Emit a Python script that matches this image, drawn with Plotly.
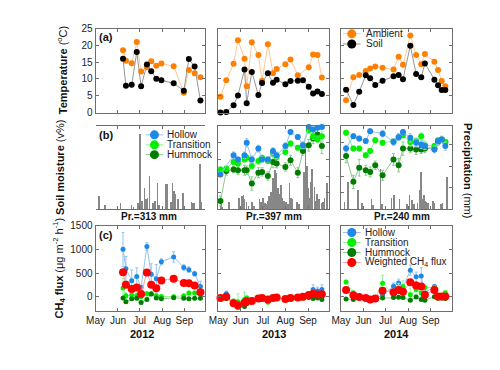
import plotly.graph_objects as go

# The page body has an 8 px default margin: the figure is drawn 8 px in and 8 px down.
OFF = 8
W, H = 500 - OFF, 370 - OFF
FONT = "Liberation Sans, Arial, sans-serif"

# ---------------- data ----------------
months = ["May", "Jun", "Jul", "Aug", "Sep"]
years = [2012, 2013, 2014]
precip_totals = ["Pr.=313 mm", "Pr.=397 mm", "Pr.=240 mm"]

# 2012
dates_2012 = ["2012-06-08", "2012-06-12", "2012-06-20", "2012-06-27", "2012-07-03", "2012-07-11",
              "2012-07-17", "2012-07-24", "2012-07-31", "2012-08-17", "2012-08-31", "2012-09-07",
              "2012-09-15", "2012-09-23"]
ambient_2012 = [18.5, 15.4, 14.7, 21.0, 12.2, 13.5, 15.3, 13.9, 14.6, 13.8, 5.9, 12.7, 11.7, 10.5]
soil_2012 = [16.0, 8.0, 8.3, 18.0, 7.8, 14.3, 12.3, 10.1, 9.6, 8.7, 6.5, 15.9, 13.7, 3.6]
ch4_hollow_2012 = [1000, 590, 335, 425, 195, 1060, 475, 380, 740, 840, 615, 570, 485, 215]
ch4_hollow_err_2012 = [360, 260, 230, 185, 50, 80, 220, 300, 60, 110, 60, 60, 50, 110]
ch4_trans_2012 = [185, 20, 35, 20, 5, 60, 60, 20, 5, 0, 20, 75, 75, 90]
ch4_trans_err_2012 = [200, 60, 40, 60, 40, 50, 40, 40, 30, 30, 30, 40, 40, 40]
ch4_humm_2012 = [-30, -110, -45, -35, -125, -60, 55, -30, -45, -25, -35, -45, -35, -35]
ch4_humm_err_2012 = [30, 30, 25, 25, 30, 25, 25, 20, 20, 20, 20, 20, 20, 20]
ch4_weighted_2012 = [515, 250, 160, 195, 55, 510, 250, 180, 340, 380, 290, 285, 235, 95]
ch4_weighted_err_2012 = [60, 40, 40, 40, 30, 50, 40, 40, 40, 40, 30, 30, 30, 30]
rain_dates_2012 = ["2012-05-05", "2012-05-13", "2012-06-04", "2012-06-19", "2012-06-22", "2012-06-28",
                   "2012-07-01", "2012-07-04", "2012-07-07", "2012-07-09", "2012-07-11", "2012-07-14",
                   "2012-07-19", "2012-07-22", "2012-07-25", "2012-07-27", "2012-08-05", "2012-08-07",
                   "2012-08-13", "2012-08-15", "2012-08-17", "2012-08-19", "2012-08-22", "2012-08-23",
                   "2012-08-29", "2012-09-10", "2012-09-12", "2012-09-14", "2012-09-22", "2012-09-24"]
rain_2012 = [9.3, 2.9, 4.6, 2.9, 1.7, 4.1, 52.2, 5.8, 15.1, 7.0, 8.1, 23.2, 4.6, 5.8, 18.0, 2.9,
             17.4, 17.4, 5.2, 18.0, 12.8, 10.4, 7.0, 5.2, 11.6, 5.2, 4.6, 4.1, 31.3, 5.2]

# 2013
dates_2013 = ["2013-05-04", "2013-05-12", "2013-05-22", "2013-05-28", "2013-06-06", "2013-06-09",
              "2013-06-16", "2013-06-25", "2013-06-30", "2013-07-08", "2013-07-15", "2013-07-20",
              "2013-08-01", "2013-08-08", "2013-08-18", "2013-08-25", "2013-09-02", "2013-09-08",
              "2013-09-14", "2013-09-20"]
ambient_2013 = [4.7, 9.6, 14.5, 21.5, 16.0, 7.8, 20.9, 17.1, 9.5, 20.3, 11.7, 13.0, 14.4, 15.8,
                11.1, None, 13.5, 17.3, 17.1, 10.4]
soil_2013 = [0.0, 0.2, 2.2, 5.1, 12.8, 2.8, 12.1, 5.2, 8.8, 11.7, 8.9, 9.8, 8.4, 9.4, 9.5, 9.6,
             7.7, 5.7, 6.3, 5.5]
sm_hollow_2013 = [42, None, 65, 60, 65, 80, 60, 73, 60, 60, 70, 65, 76, 93, 87, 77, 99, 96, 98, 99]
sm_hollow_err_2013 = [3, None, 4, 3, 4, 5, 4, 4, 3, 3, 4, 4, 4, 3, 3, 4, 3, 3, 2, 2]
sm_trans_2013 = [48, 49, 57, 55, 60, 62, 52, 58, 62, 58, 67, 63, 69, 79, 74, 77, 95, 88, 84, 88]
sm_trans_err_2013 = [3, 3, 3, 3, 3, 4, 3, 4, 3, 3, 3, 3, 3, 3, 3, 4, 4, 4, 4, 6]
sm_humm_2013 = [10, 46, 48, 47, 47, 47, 31, 44, 45, 40, 57, 55, 51, 59, 44, 70, 77, 85, 90, 76]
sm_humm_err_2013 = [6, 5, 4, 5, 6, 5, 8, 6, 5, 5, 7, 5, 5, 6, 6, 5, 7, 6, 8, 9]
ch4_hollow_2013 = [-30, 60, -160, -230, -150, -90, -100, -40, -20, -50, -30, -10, -50, -30, -10,
                   10, 50, 150, 120, 150]
ch4_hollow_err_2013 = [40, 60, 50, 40, 40, 40, 40, 30, 30, 30, 30, 30, 30, 30, 30, 30, 30, 100, 80, 100]
ch4_trans_2013 = [-40, -20, -90, -110, -60, -30, -60, -50, -40, -120, -20, -20, -40, -20, 0, 20,
                  40, 40, 20, 10]
ch4_trans_err_2013 = [30, 30, 40, 170, 160, 50, 40, 30, 30, 30, 30, 30, 30, 30, 30, 30, 30, 30, 30, 30]
ch4_humm_2013 = [-40, -40, -130, -190, -210, -150, -110, -60, -50, -80, -50, -40, -60, -50, -40,
                 -30, -20, -40, -30, -60]
ch4_humm_err_2013 = [30, 30, 30, 30, 30, 30, 30, 20, 20, 20, 20, 20, 20, 20, 20, 20, 20, 20, 20, 20]
ch4_weighted_2013 = [-30, 0, -140, -190, -130, -100, -90, -40, -30, -60, -30, -20, -50, -30, -20,
                     0, 35, 60, 45, 50]
ch4_weighted_err_2013 = [30, 30, 30, 30, 30, 30, 30, 20, 20, 20, 20, 20, 20, 20, 20, 20, 20, 40, 40, 40]
rain_dates_2013 = ["2013-05-05", "2013-05-07", "2013-05-16", "2013-05-30", "2013-06-03", "2013-06-05",
                   "2013-06-06", "2013-06-09", "2013-06-12", "2013-06-17", "2013-06-19", "2013-06-27",
                   "2013-06-29", "2013-07-02", "2013-07-04", "2013-07-06", "2013-07-08", "2013-07-10",
                   "2013-07-13", "2013-07-15", "2013-07-18", "2013-07-20", "2013-07-22", "2013-07-24",
                   "2013-07-26", "2013-07-28", "2013-07-30", "2013-08-02", "2013-08-05", "2013-08-07",
                   "2013-08-09", "2013-08-11", "2013-08-17", "2013-08-20", "2013-08-27", "2013-08-29",
                   "2013-08-31", "2013-09-01", "2013-09-03", "2013-09-05", "2013-09-07", "2013-09-10",
                   "2013-09-12", "2013-09-14", "2013-09-16", "2013-09-20", "2013-09-22", "2013-09-24",
                   "2013-09-27"]
rain_2013 = [3.5, 1.7, 5.2, 8.1, 9.0, 9.9, 7.0, 5.2, 2.3, 5.2, 2.3, 7.0, 5.2, 8.1, 4.6, 3.5, 5.8,
             9.0, 12.2, 21.5, 27.0, 24.9, 14.5, 10.4, 16.8, 8.1, 5.8, 5.2, 3.5, 18.0, 8.1, 7.0, 5.2,
             3.5, 26.1, 43.5, 30.2, 14.5, 8.1, 19.1, 27.8, 15.7, 5.8, 10.4, 7.0, 4.6, 5.2, 8.1, 18.0]

# 2014
dates_2014 = ["2014-05-08", "2014-05-18", "2014-05-26", "2014-06-04", "2014-06-10", "2014-06-17",
              "2014-06-27", "2014-07-12", "2014-07-19", "2014-07-25", "2014-08-04", "2014-08-12",
              "2014-08-19", "2014-08-24", "2014-09-06", "2014-09-11", "2014-09-16", "2014-09-21"]
ambient_2014 = [3.7, 10.5, 11.2, 12.4, 13.1, 13.7, 13.3, 12.8, 16.6, 14.2, 22.9, 17.1, 14.4, 17.4,
                15.1, 12.7, 9.4, 7.8]
soil_2014 = [6.8, 2.3, 6.2, 11.1, 10.2, 8.2, 9.5, 10.8, 11.2, 9.9, 19.9, 11.5, 10.5, 14.6, 9.8,
             8.1, 6.7, 6.7]
sm_hollow_2014 = [73, 88, 85, 82, 94, None, 91, 81, 87, 93, 86, 80, 78, 76, 72, 82, 84, 76]
sm_hollow_err_2014 = [4, 3, 3, 3, 3, None, 4, 4, 4, 3, 5, 5, 5, 4, 4, 4, 4, 5]
sm_trans_2014 = [92, 73, 73, 65, 70, 83, 80, 82, 86, 89, 81, 82, 88, 77, 76, 83, 84, 81]
sm_trans_err_2014 = [3, 3, 3, 3, 3, 3, 3, 3, 3, 3, 5, 4, 4, 5, 3, 3, 3, 3]
sm_humm_2014 = [64, 33, 50, 47, 45, 53, 41, 60, 53, 73, 73, 72, 72, 73, 73, 81, 84, 81]
sm_humm_err_2014 = [8, 8, 10, 6, 6, 5, 6, 7, 8, 8, 5, 6, 5, 5, 4, 4, 3, 3]
ch4_hollow_2014 = [140, 60, -5, -30, -60, -40, 35, 220, 290, 185, 560, 420, 435, 80, 215, 5, 5, 10]
ch4_hollow_err_2014 = [40, 40, 30, 30, 30, 30, 40, 70, 80, 60, 110, 100, 180, 60, 40, 30, 30, 30]
ch4_trans_2014 = [310, 75, -5, -35, -60, -30, 285, 40, 180, 215, 40, 150, 75, 195, 195, 5, 20, 80]
ch4_trans_err_2014 = [40, 60, 30, 30, 30, 30, 170, 50, 100, 120, 140, 110, 80, 60, 40, 30, 30, 40]
ch4_humm_2014 = [-50, -60, -15, -30, -85, -50, -30, -20, -15, -20, -75, -5, -60, -75, 0, -35, -30, -40]
ch4_humm_err_2014 = [20, 20, 20, 20, 20, 20, 20, 20, 20, 20, 20, 20, 20, 20, 20, 20, 20, 20]
ch4_weighted_2014 = [140, 30, -5, -30, -60, -40, 125, 95, 140, 105, 305, 235, 215, 40, 140, 5, 5, 5]
ch4_weighted_err_2014 = [30, 30, 20, 20, 20, 20, 40, 30, 40, 40, 50, 40, 40, 30, 30, 20, 20, 20]
rain_dates_2014 = ["2014-05-06", "2014-05-11", "2014-05-24", "2014-05-30", "2014-06-12", "2014-06-14",
                   "2014-06-24", "2014-06-26", "2014-07-09", "2014-07-12", "2014-07-13", "2014-07-20",
                   "2014-07-30", "2014-07-31", "2014-08-03", "2014-08-06", "2014-08-09", "2014-08-14",
                   "2014-08-17", "2014-08-19", "2014-08-20", "2014-08-22", "2014-08-23", "2014-08-25",
                   "2014-08-26", "2014-08-28", "2014-09-04", "2014-09-06", "2014-09-15", "2014-09-17",
                   "2014-09-23"]
rain_2014 = [5.2, 19.1, 13.3, 4.6, 7.0, 2.9, 27.8, 3.5, 8.1, 5.8, 9.9, 7.0, 3.5, 2.3, 9.9, 6.4, 3.5,
             4.6, 13.3, 26.1, 7.0, 8.1, 9.9, 5.8, 5.2, 4.6, 5.8, 4.1, 3.5, 4.1, 22.6]

# ---------------- styling ----------------
C_AMB, L_AMB = "rgb(255,128,0)", "rgb(255,200,150)"
C_SOIL, L_SOIL = "rgb(0,0,0)", "rgb(150,150,150)"
C_HOL, L_HOL = "rgb(30,136,229)", "rgb(150,195,240)"
C_TRA, L_TRA = "rgb(0,240,0)", "rgb(150,240,150)"
C_HUM, L_HUM = "rgb(0,125,0)", "rgb(140,200,140)"
C_WEI, L_WEI = "rgb(255,0,0)", "rgb(255,160,160)"
AXC = "rgb(110,110,110)"
RAIN_C = "rgb(135,135,135)"


def PX(px):
    return (px - OFF) / W


def PY(py):
    return 1 - (py - OFF) / H


COL_PX = [(88, 200), (213, 326), (338, 451)]
ROW_PX = [(23, 110), (124, 210), (227, 315)]
X_DOM = [[PX(a), PX(b)] for (a, b) in COL_PX]
Y_DOM = [[PY(b), PY(t)] for (t, b) in ROW_PX]


def ax(prefix, k):
    return prefix if k == 1 else f"{prefix}{k}"


def lay(prefix, k):
    return f"{prefix}axis" if k == 1 else f"{prefix}axis{k}"


fig = go.Figure()

col_data = [
    dict(d=dates_2012, amb=ambient_2012, soil=soil_2012, sm=None,
         ch4=(ch4_hollow_2012, ch4_hollow_err_2012, ch4_trans_2012, ch4_trans_err_2012,
              ch4_humm_2012, ch4_humm_err_2012, ch4_weighted_2012, ch4_weighted_err_2012),
         rd=rain_dates_2012, r=rain_2012),
    dict(d=dates_2013, amb=ambient_2013, soil=soil_2013,
         sm=(sm_hollow_2013, sm_hollow_err_2013, sm_trans_2013, sm_trans_err_2013,
             sm_humm_2013, sm_humm_err_2013),
         ch4=(ch4_hollow_2013, ch4_hollow_err_2013, ch4_trans_2013, ch4_trans_err_2013,
              ch4_humm_2013, ch4_humm_err_2013, ch4_weighted_2013, ch4_weighted_err_2013),
         rd=rain_dates_2013, r=rain_2013),
    dict(d=dates_2014, amb=ambient_2014, soil=soil_2014,
         sm=(sm_hollow_2014, sm_hollow_err_2014, sm_trans_2014, sm_trans_err_2014,
             sm_humm_2014, sm_humm_err_2014),
         ch4=(ch4_hollow_2014, ch4_hollow_err_2014, ch4_trans_2014, ch4_trans_err_2014,
              ch4_humm_2014, ch4_humm_err_2014, ch4_weighted_2014, ch4_weighted_err_2014),
         rd=rain_dates_2014, r=rain_2014),
]


def line_trace(x, y, mc, lc, xa, ya, size=6, err=None):
    t = go.Scatter(x=x, y=y, mode="lines+markers", xaxis=xa, yaxis=ya, showlegend=False,
                   connectgaps=True, cliponaxis=False,
                   line=dict(color=lc, width=1),
                   marker=dict(color=mc, size=size, line=dict(width=0)))
    if err is not None:
        t.error_y = dict(type="data", array=err, color=lc, thickness=1, width=1.5)
    return t


layout_axes = {}
for c in range(3):
    D = col_data[c]
    yr = years[c]
    ka = 1 + c
    fig.add_trace(line_trace(D["d"], D["amb"], C_AMB, L_AMB, ax("x", ka), ax("y", ka)))
    fig.add_trace(line_trace(D["d"], D["soil"], C_SOIL, L_SOIL, ax("x", ka), ax("y", ka)))
    kb = 4 + c
    km = 10 + c
    fig.add_trace(go.Bar(x=D["rd"], y=D["r"], xaxis=ax("x", kb), yaxis=ax("y", kb),
                         marker=dict(color=RAIN_C, line=dict(width=0)),
                         width=86400000 * 0.9, showlegend=False))
    if D["sm"] is not None:
        h, he, t_, te, m, me = D["sm"]
        fig.add_trace(line_trace(D["d"], m, C_HUM, L_HUM, ax("x", kb), ax("y", km), err=me))
        fig.add_trace(line_trace(D["d"], t_, C_TRA, L_TRA, ax("x", kb), ax("y", km), err=te))
        fig.add_trace(line_trace(D["d"], h, C_HOL, L_HOL, ax("x", kb), ax("y", km), err=he))
    kc = 7 + c
    h, he, t_, te, m, me, w, we = D["ch4"]
    fig.add_trace(line_trace(D["d"], h, C_HOL, L_HOL, ax("x", kc), ax("y", kc), size=5, err=he))
    fig.add_trace(line_trace(D["d"], t_, C_TRA, L_TRA, ax("x", kc), ax("y", kc), size=5, err=te))
    fig.add_trace(line_trace(D["d"], m, C_HUM, L_HUM, ax("x", kc), ax("y", kc), size=5, err=me))
    fig.add_trace(line_trace(D["d"], w, C_WEI, L_WEI, ax("x", kc), ax("y", kc), size=8, err=we))

    for r in range(3):
        k = 1 + r * 3 + c
        layout_axes[lay("x", k)] = dict(
            domain=X_DOM[c], anchor=ax("y", k), type="date",
            range=[f"{yr}-05-01", f"{yr}-09-30"],
            tickvals=[f"{yr}-{m:02d}-01" for m in range(5, 10)], ticktext=months,
            showticklabels=(r == 2), ticks="inside", ticklen=3, tickcolor=AXC,
            mirror="ticks", showline=True, linecolor=AXC, linewidth=1,
            showgrid=False, zeroline=False,
            tickfont=dict(size=10, color="#222", family=FONT))
    layout_axes[lay("y", ka)] = dict(
        domain=Y_DOM[0], anchor=ax("x", ka), range=[0, 25], tickvals=[0, 5, 10, 15, 20, 25],
        showticklabels=(c == 0), ticks="inside", ticklen=3, tickcolor=AXC, mirror="ticks",
        showline=True, linecolor=AXC, linewidth=1, showgrid=False, zeroline=False,
        tickfont=dict(size=10, color="#222", family=FONT))
    layout_axes[lay("y", kc)] = dict(
        domain=Y_DOM[2], anchor=ax("x", kc), range=[-300, 1500], tickvals=[0, 500, 1000, 1500],
        showticklabels=(c == 0), ticks="inside", ticklen=3, tickcolor=AXC, mirror="ticks",
        showline=True, linecolor=AXC, linewidth=1, showgrid=False, zeroline=False,
        tickfont=dict(size=10, color="#222", family=FONT))
    if c < 2:
        layout_axes[lay("y", kb)] = dict(domain=Y_DOM[1], anchor=ax("x", kb), range=[0, 58],
                                         visible=False, showgrid=False, zeroline=False)
    else:
        layout_axes[lay("y", kb)] = dict(
            domain=Y_DOM[1], anchor=ax("x", kb), range=[0, 58], side="right", dtick=15,
            showticklabels=False, ticks="inside", ticklen=3, tickcolor=AXC,
            showline=True, linecolor=AXC, linewidth=1, showgrid=False, zeroline=False)
    layout_axes[lay("y", km)] = dict(
        overlaying=ax("y", kb), anchor=ax("x", kb), side="left", range=[0, 100],
        tickvals=[0, 20, 40, 60, 80, 100], showticklabels=(c == 0), ticks="inside", ticklen=3,
        tickcolor=AXC, mirror=("ticks" if c < 2 else False), showline=True, linecolor=AXC,
        linewidth=1, showgrid=False, zeroline=False,
        tickfont=dict(size=10, color="#222", family=FONT))

fig.update_layout(**layout_axes)

# ---------------- text & manual legends ----------------
annotations = []
shapes = []


def text(s, px, py, size=10, xanchor="center", angle=0, color="#111"):
    annotations.append(dict(text=s, x=PX(px), y=PY(py), xref="paper", yref="paper",
                            showarrow=False, xanchor=xanchor, yanchor="middle",
                            textangle=angle, font=dict(size=size, color=color, family=FONT)))


def legend_entry(label, mc, lc, px, py, tx):
    shapes.append(dict(type="line", xref="paper", yref="paper", x0=PX(px - 9), x1=PX(px + 9),
                       y0=PY(py), y1=PY(py), line=dict(color=lc, width=1)))
    shapes.append(dict(type="circle", xref="paper", yref="paper", xsizemode="pixel",
                       ysizemode="pixel", xanchor=PX(px), yanchor=PY(py), x0=-4.5, x1=4.5,
                       y0=-4.5, y1=4.5, fillcolor=mc, line=dict(width=0)))
    text(label, tx, py, size=10, xanchor="left", color="#222")


text("<b>(a)</b>", 99, 32, size=11)
text("<b>(b)</b>", 99, 133, size=11)
text("<b>(c)</b>", 99, 237, size=11)

text("<b>Temperature</b> (<sup>o</sup>C)", 54, 66, size=11, angle=-90)
text("<b>Soil moisture</b> (v%)", 52, 167, size=11, angle=-90)
text("<b>CH<sub>4</sub> flux</b> (μg m<sup>-2</sup> h<sup>-1</sup>)", 51, 271, size=11, angle=-90)
text("<b>Precipitation</b> (mm)", 468, 170, size=11, angle=90)

for cx, s in zip([142, 270, 400], precip_totals):
    text(f"<b>{s}</b>", cx, 217, size=10)
for cx, yv in zip([135, 269.5, 394.5], years):
    text(f"<b>{yv}</b>", cx, 339, size=11)

legend_entry("Ambient", C_AMB, L_AMB, 349, 28.5, 361)
legend_entry("Soil", C_SOIL, L_SOIL, 349, 39, 361)
legend_entry("Hollow", C_HOL, L_HOL, 148, 133, 159)
legend_entry("Transition", C_TRA, L_TRA, 148, 143.3, 159)
legend_entry("Hummock", C_HUM, L_HUM, 148, 153.5, 159)
legend_entry("Hollow", C_HOL, L_HOL, 349, 234, 360)
legend_entry("Transition", C_TRA, L_TRA, 349, 244.3, 360)
legend_entry("Hummock", C_HUM, L_HUM, 349, 254.7, 360)
legend_entry("Weighted CH<sub>4</sub> flux", C_WEI, L_WEI, 349, 265, 360)

fig.update_layout(
    width=W, height=H, margin=dict(l=0, r=0, t=0, b=0),
    paper_bgcolor="white", plot_bgcolor="white",
    font=dict(family=FONT, size=10, color="#222"),
    showlegend=False, annotations=annotations, shapes=shapes, bargap=0,
)

fig.write_html("out.html")
